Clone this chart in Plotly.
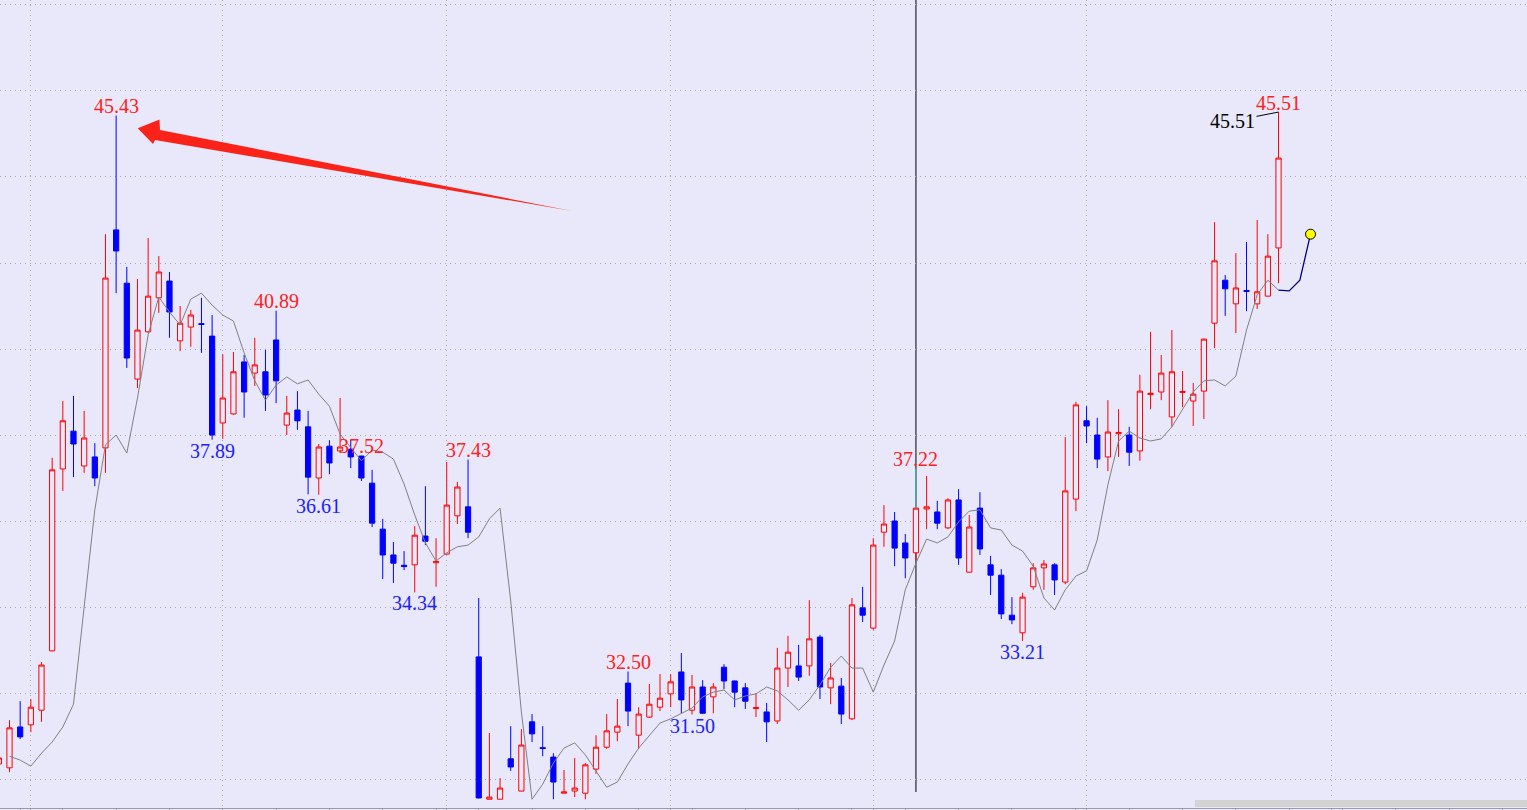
import plotly.graph_objects as go

# ---------------- data ----------------
days = list(range(-1, 120))

open_ = [30.35, 30.26, 31.21, 31.26, 31.60, 32.98, 37.21, 38.09, 37.28, 37.49,
         37.70, 42.77, 41.53, 39.30, 40.40, 41.19, 41.58, 40.19, 40.51, 40.59,
         40.30, 38.28, 38.49, 39.70, 39.44, 39.47, 40.21, 38.23, 38.58, 38.19,
         37.00, 37.74, 37.63, 37.67, 37.51, 36.88, 35.81, 35.21, 34.97, 34.98,
         35.65, 35.03, 35.23, 36.12, 36.33, 32.84, 29.53, 29.53, 30.47, 29.72,
         31.33, 30.73, 30.51, 29.67, 29.72, 29.67, 30.23, 30.74, 31.09, 32.23,
         31.02, 31.44, 31.67, 31.98, 32.49, 31.60, 32.14, 31.91, 32.60, 32.28,
         32.12, 31.64, 31.56, 31.35, 32.58, 32.63, 32.63, 33.30, 32.12, 32.16,
         31.40, 33.98, 33.51, 35.74, 36.00, 35.49, 35.26, 36.28, 36.21, 35.84,
         36.49, 34.81, 36.30, 34.98, 34.74, 33.81, 33.40, 34.47, 34.91, 34.98,
         34.58, 36.51, 38.33, 38.00, 37.49, 38.03, 38.00, 37.63, 38.94, 39.00,
         38.42, 38.99, 38.79, 39.02, 40.60, 41.60, 41.05, 41.36, 41.05, 41.23,
         42.35]

high = [30.56, 31.37, 31.81, 31.86, 32.72, 37.47, 38.79, 38.91, 38.56, 37.81,
        42.67, 45.43, 41.91, 41.63, 42.58, 42.16, 41.79, 41.00, 40.91, 41.19,
        40.79, 39.88, 39.93, 39.86, 40.26, 39.98, 40.89, 38.91, 39.02, 38.56,
        37.79, 37.88, 38.86, 37.88, 37.52, 37.19, 36.05, 35.51, 35.30, 35.88,
        36.81, 35.60, 37.37, 36.91, 37.43, 34.21, 31.07, 30.02, 31.23, 31.16,
        31.51, 31.23, 30.60, 30.21, 30.49, 30.37, 31.02, 31.51, 31.86, 32.50,
        31.67, 32.21, 32.44, 32.44, 32.93, 32.42, 32.30, 32.23, 32.67, 32.29,
        32.23, 31.98, 31.77, 33.05, 33.33, 33.12, 34.16, 33.35, 32.70, 32.35,
        34.21, 34.47, 35.60, 36.37, 36.21, 35.70, 37.22, 37.05, 36.47, 36.53,
        36.74, 36.14, 36.67, 35.19, 34.88, 34.23, 34.33, 35.02, 35.09, 35.02,
        37.95, 38.77, 38.67, 38.40, 38.81, 38.60, 38.19, 39.40, 40.40, 39.86,
        40.44, 39.49, 39.21, 40.24, 42.95, 41.72, 42.23, 42.49, 43.00, 42.67,
        45.51]

low = [30.26, 30.16, 30.93, 31.09, 31.33, 32.97, 36.70, 37.02, 37.12, 36.81,
       37.12, 41.30, 39.56, 39.09, 40.37, 40.84, 40.26, 39.95, 40.05, 39.91,
       37.89, 37.91, 38.47, 38.40, 39.14, 38.56, 38.74, 38.00, 38.12, 36.62,
       36.61, 37.09, 37.58, 37.23, 36.93, 35.86, 34.65, 34.56, 34.86, 34.34,
       35.44, 34.47, 35.22, 35.93, 35.60, 29.55, 29.53, 29.53, 30.19, 29.71,
       30.86, 30.53, 29.53, 29.67, 29.58, 29.53, 30.12, 30.70, 30.88, 31.23,
       30.70, 31.42, 31.58, 31.67, 31.53, 31.50, 31.52, 31.53, 32.09, 31.67,
       31.63, 31.44, 30.86, 31.28, 32.14, 32.28, 32.40, 31.86, 31.74, 31.28,
       31.37, 33.65, 33.47, 35.40, 34.95, 34.67, 35.09, 35.81, 35.81, 35.81,
       34.98, 34.80, 35.21, 34.28, 33.72, 33.60, 33.21, 34.40, 34.40, 34.28,
       34.53, 36.23, 37.81, 37.23, 37.16, 37.49, 37.28, 37.40, 38.60, 38.81,
       38.19, 38.65, 38.21, 38.37, 40.02, 40.77, 40.37, 40.88, 40.93, 41.22,
       41.53]

close = [30.49, 31.19, 30.98, 31.67, 32.65, 37.19, 38.33, 37.79, 37.93, 37.00,
         41.65, 42.28, 39.79, 40.44, 41.23, 41.79, 40.86, 40.60, 40.79, 40.57,
         38.00, 38.86, 39.47, 39.00, 39.63, 38.93, 39.26, 38.51, 38.33, 37.02,
         37.72, 37.35, 37.72, 37.49, 37.00, 35.95, 35.21, 35.02, 34.94, 35.67,
         35.53, 35.06, 36.37, 36.79, 35.74, 29.56, 29.58, 29.79, 30.28, 30.79,
         31.05, 30.71, 29.93, 29.70, 29.79, 30.33, 30.74, 31.12, 31.23, 31.58,
         31.51, 31.74, 31.88, 32.26, 31.84, 32.14, 31.53, 32.14, 32.28, 32.02,
         31.81, 31.66, 31.33, 32.58, 32.95, 32.37, 33.26, 32.14, 32.35, 31.51,
         34.05, 33.81, 35.44, 35.93, 35.37, 35.14, 36.30, 36.33, 35.95, 36.49,
         35.14, 35.86, 35.35, 34.74, 33.84, 33.70, 34.23, 34.91, 35.00, 34.63,
         36.70, 38.70, 38.21, 37.44, 38.07, 38.06, 37.60, 39.02, 38.97, 39.44,
         39.47, 39.01, 38.95, 40.23, 42.05, 41.40, 41.42, 41.34, 41.33, 42.16,
         44.44]

ma_days = list(range(0, 120))
ma_vals = [30.53, 30.44, 30.30, 30.60, 30.86, 31.21, 31.74, 34.00, 36.26, 37.77,
           38.00, 37.58, 38.86, 40.33, 41.21, 40.86, 40.56, 41.16, 41.30, 41.02,
           40.79, 40.65, 39.91, 39.26, 38.81, 39.16, 39.35, 39.19, 39.28, 38.95,
           38.67, 38.02, 37.70, 37.40, 37.65, 37.60, 37.44, 36.86, 36.14, 35.49,
           35.07, 35.26, 35.40, 35.44, 35.63, 36.05, 36.30, 34.14, 31.56, 29.53,
           29.88, 30.37, 30.72, 30.84, 30.56, 30.19, 29.81, 29.93, 30.35, 30.72,
           31.02, 31.30, 31.40, 31.53, 31.65, 31.91, 32.02, 32.07, 31.84, 31.93,
           31.98, 32.14, 32.05, 31.84, 31.60, 31.84, 32.19, 32.60, 32.86, 32.58,
           32.58, 32.02, 32.65, 33.21, 34.40, 35.02, 35.58, 35.49, 35.63, 35.98,
           36.23, 36.26, 35.84, 35.79, 35.44, 35.30, 34.95, 34.21, 33.93, 34.40,
           34.72, 34.84, 35.56, 36.84, 37.86, 38.09, 37.93, 37.86, 37.91, 38.19,
           38.60, 39.00, 39.26, 39.28, 39.14, 39.37, 40.44, 41.26, 41.60, 41.37]

proj_days = [119, 120, 121, 122]
proj_vals = [41.37, 41.35, 41.60, 42.67]

cursor_day = 85

month_ticks = [2, 20, 41, 62, 81, 101, 124]
week_ticks = [1, 5, 10, 15, 20, 25, 30, 35, 40, 44, 49, 54, 59, 64, 69, 74, 79,
              84, 89, 94, 100, 105, 110, 115, 120, 125, 130, 135, 140]
price_grid = [30, 32, 34, 36, 38, 40, 42, 44, 46, 48]

# labelled extremes: (text, day, which)
labels = [("45.43", 10, "high"), ("40.89", 25, "high"), ("37.89", 19, "low"),
          ("36.61", 29, "low"), ("37.52", 33, "high"), ("34.34", 38, "low"),
          ("37.43", 43, "high"), ("32.50", 58, "high"), ("31.50", 64, "low"),
          ("37.22", 85, "high"), ("33.21", 95, "low"), ("45.51", 119, "high")]

# ---------------- style ----------------
BG = "rgb(232,232,250)"
RED = "#FF0000"
BLUE = "#0000FF"
GRID = "rgb(165,165,178)"
W, H = 1527, 810
PLOT_H = 808
FONT = "Liberation Serif"
FSIZE = 20

fig = go.Figure()

fig.add_trace(go.Candlestick(
    x=days, open=open_, high=high, low=low, close=close,
    increasing=dict(line=dict(color=RED, width=1), fillcolor=BG),
    decreasing=dict(line=dict(color=BLUE, width=1), fillcolor=BLUE),
    whiskerwidth=0, hoverinfo="skip", showlegend=False))

ci = days.index(cursor_day)
fig.add_trace(go.Scatter(
    x=[cursor_day, cursor_day], y=[max(open_[ci], close[ci]), high[ci]],
    mode="lines", line=dict(color="#00FFFF", width=1), hoverinfo="skip"))

fig.add_trace(go.Scatter(x=ma_days, y=ma_vals, mode="lines",
                         line=dict(color="#808080", width=1), hoverinfo="skip"))
fig.add_trace(go.Scatter(x=proj_days, y=proj_vals, mode="lines",
                         line=dict(color="#000080", width=1.3), hoverinfo="skip"))
fig.add_trace(go.Scatter(x=[proj_days[-1]], y=[proj_vals[-1]], mode="markers",
                         marker=dict(size=10, color="#FFFF00",
                                     line=dict(color="#000000", width=1)),
                         hoverinfo="skip"))

annotations = []
for text, d, which in labels:
    i = days.index(d)
    if which == "high":
        y, shift, col = high[i], 9.5, "#FF2020"
    else:
        y, shift, col = low[i], -11, "#2020FF"
    annotations.append(dict(x=d, y=y, xref="x", yref="y", text=text, showarrow=False,
                            xanchor="center", yanchor="middle", yshift=shift,
                            font=dict(family=FONT, size=FSIZE, color=col)))
# black duplicate label with leader line at the last high
li = days.index(119)
annotations.append(dict(x=119, y=high[li], xref="x", yref="y", text="45.51",
                        showarrow=True, ax=-46, ay=9, arrowhead=0, arrowwidth=1,
                        arrowcolor="#000000",
                        font=dict(family=FONT, size=FSIZE, color="#000000")))


def P(px, py):
    return f"{px / W:.5f},{1 - py / PLOT_H:.5f}"


arrow_pts = [(137.7, 128.3), (159.5, 119.5), (160, 130), (572, 211),
             (155, 140), (153, 144)]
arrow_path = "M " + " L ".join(P(*pt) for pt in arrow_pts) + " Z"

shapes = [
    dict(type="line", xref="x", yref="paper", x0=cursor_day, x1=cursor_day,
         y0=1 - 792 / PLOT_H, y1=1, line=dict(color="#000000", width=1), layer="below"),
    dict(type="path", xref="paper", yref="paper", path=arrow_path,
         fillcolor="rgb(250,35,25)", line=dict(width=0), layer="above"),
    dict(type="rect", xref="paper", yref="paper", x0=1195 / W, x1=1,
         y0=1 / PLOT_H, y1=8 / PLOT_H, fillcolor="#D3D3D3", line=dict(width=0),
         layer="above"),
]

fig.update_layout(
    width=W, height=H, margin=dict(l=0, r=0, t=0, b=H - PLOT_H),
    paper_bgcolor=BG, plot_bgcolor=BG, showlegend=False,
    annotations=annotations, shapes=shapes,
    xaxis=dict(range=[-0.891, 142.3], tickmode="array", tickvals=month_ticks,
               showticklabels=False, showgrid=True, gridcolor=GRID, gridwidth=1,
               griddash="1px,4px", zeroline=False, ticks="outside", ticklen=2,
               tickcolor="#9A9AA8", showline=True, linecolor="#9A9AA8", linewidth=1,
               rangeslider=dict(visible=False),
               minor=dict(tickmode="array", tickvals=week_ticks, ticks="outside",
                          ticklen=2, tickcolor="#9A9AA8", showgrid=False)),
    yaxis=dict(range=[29.326, 48.116], tickmode="array", tickvals=price_grid,
               showticklabels=False, showgrid=True, gridcolor=GRID, gridwidth=1,
               griddash="1px,4px", zeroline=False, ticks=""),
)

fig.write_html("out.html", config={"displayModeBar": False},
               post_script="document.body.style.margin='0';"
                           "document.body.style.background='" + BG + "';")
